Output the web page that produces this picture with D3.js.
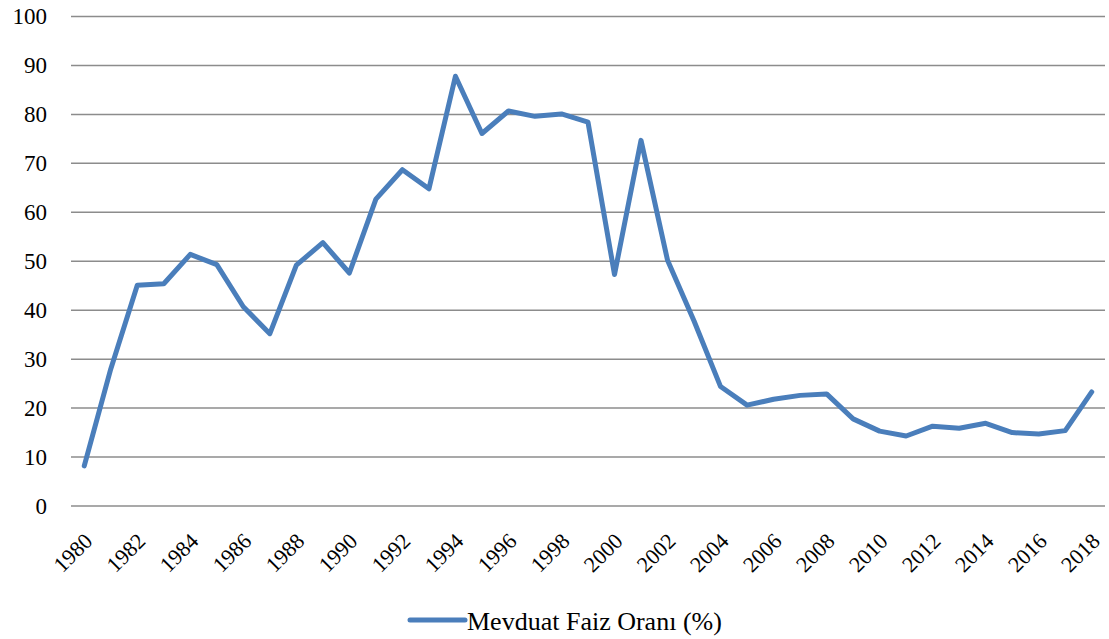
<!DOCTYPE html>
<html>
<head>
<meta charset="utf-8">
<script src="https://cdn.jsdelivr.net/npm/d3@7"></script>
<style>
  body { margin: 0; background: #fff; }
</style>
</head>
<body>
<div id="chart"></div>
<script>
// data
var years = d3.range(1980, 2019);
var rates = [8.2, 28, 45.1, 45.4, 51.4, 49.3, 40.7, 35.2, 49.2, 53.8,
             47.6, 62.7, 68.7, 64.8, 87.8, 76.1, 80.7, 79.6, 80.1, 78.4,
             47.3, 74.7, 50.2, 37.8, 24.4, 20.6, 21.8, 22.6, 22.9, 17.8,
             15.3, 14.3, 16.3, 15.9, 16.9, 15.0, 14.7, 15.4, 23.3];
var yTicks = [0, 10, 20, 30, 40, 50, 60, 70, 80, 90, 100];
var seriesName = "Mevduat Faiz Oranı (%)";

var font = "'Times New Roman', 'Liberation Serif', serif";

var W = 1109, H = 639;
var margin = {top: 16.5, right: 4, bottom: 133, left: 71};
var width = W - margin.left - margin.right,
    height = H - margin.top - margin.bottom;

var svg = d3.select("#chart").append("svg")
    .attr("width", W)
    .attr("height", H);

var g = svg.append("g")
    .attr("transform", "translate(" + margin.left + "," + margin.top + ")");

var x = d3.scaleBand()
    .domain(years)
    .range([0, width]);

var y = d3.scaleLinear()
    .domain([0, 100])
    .range([height, 0]);

// horizontal gridlines
g.selectAll(".grid")
    .data(yTicks)
  .enter().append("line")
    .attr("x1", 0)
    .attr("x2", width)
    .attr("y1", function(d) { return y(d); })
    .attr("y2", function(d) { return y(d); })
    .attr("stroke", "#8c8c8c")
    .attr("stroke-width", 1.5);

// y axis labels
var yAxis = g.append("g")
    .call(d3.axisLeft(y).tickValues(yTicks).tickSize(0).tickPadding(24));
yAxis.attr("font-family", null);
yAxis.select(".domain").remove();
yAxis.selectAll("text")
    .style("font-family", font)
    .attr("fill", "#000")
    .attr("font-size", "23px");

// x axis labels, every second year
var xAxis = g.append("g")
    .attr("transform", "translate(0," + height + ")")
    .call(d3.axisBottom(x).tickValues(years.filter(function(d) { return d % 2 === 0; })).tickSize(0));
xAxis.attr("font-family", null);
xAxis.select(".domain").remove();
xAxis.selectAll("text")
    .style("font-family", font)
    .attr("fill", "#000")
    .attr("font-size", "22px")
    .style("text-anchor", "end")
    .attr("dy", "0.35em")
    .attr("transform", "translate(4,31) rotate(-45)")
    .attr("y", 0)
    .attr("x", 0);

// the line
var line = d3.line()
    .x(function(d, i) { return x(years[i]) + x.bandwidth() / 2; })
    .y(function(d) { return y(d); });

g.append("path")
    .datum(rates)
    .attr("fill", "none")
    .attr("stroke", "#4a7ebb")
    .attr("stroke-width", 5)
    .attr("stroke-linejoin", "round")
    .attr("stroke-linecap", "round")
    .attr("d", line);

// legend
var legend = svg.append("g")
    .attr("transform", "translate(410,620)");
legend.append("line")
    .attr("x1", 0).attr("x2", 55)
    .attr("y1", 0).attr("y2", 0)
    .attr("stroke", "#4a7ebb")
    .attr("stroke-width", 5)
    .attr("stroke-linecap", "round");
legend.append("text")
    .attr("x", 57)
    .attr("y", 10)
    .style("font-family", font)
    .attr("font-size", "26px")
    .text(seriesName);
</script>
</body>
</html>
